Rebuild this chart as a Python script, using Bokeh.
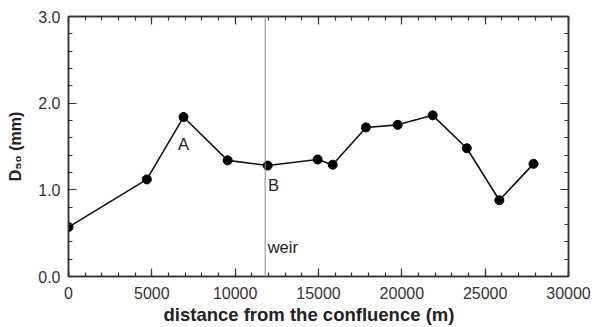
from bokeh.embed import file_html
from bokeh.models import (ColumnDataSource, CustomJSTickFormatter, Label, LinearAxis,
                          NumeralTickFormatter, Range1d, SingleIntervalTicker, Span, Title)
from bokeh.plotting import figure
from bokeh.resources import INLINE

# Median grain size along the river, measured from the confluence
distance_m = [0, 4700, 6900, 9550, 11950, 14950, 15850, 17850, 19750, 21850, 23900, 25850, 27900]
d50_mm = [0.57, 1.12, 1.84, 1.34, 1.28, 1.35, 1.29, 1.72, 1.75, 1.86, 1.48, 0.88, 1.30]
weir_m = 11800

x_ticks = [0, 5000, 10000, 15000, 20000, 25000, 30000]
y_ticks = [0.0, 1.0, 2.0, 3.0]

FONT = "Liberation Sans"
INK = "#222222"
AXIS = "#333333"

src = ColumnDataSource(dict(x=distance_m, y=d50_mm))

p = figure(width=592, height=327, output_backend="svg", toolbar_location=None,
           x_range=Range1d(x_ticks[0], x_ticks[-1]), y_range=Range1d(y_ticks[0], y_ticks[-1]),
           x_axis_location=None, y_axis_location=None,
           min_border_left=68, min_border_right=24, min_border_top=16, min_border_bottom=51)
p.grid.visible = False
p.outline_line_color = AXIS
p.outline_line_width = 1.5
p.background_fill_color = "white"
p.border_fill_color = "white"


def style_axis(ax, show_labels):
    ax.axis_line_color = AXIS
    ax.axis_line_width = 1.5
    ax.major_tick_line_color = AXIS
    ax.minor_tick_line_color = AXIS
    ax.major_tick_line_width = 1.2
    ax.minor_tick_line_width = 1.2
    ax.major_tick_in = 8
    ax.major_tick_out = 0
    ax.minor_tick_in = 4
    ax.minor_tick_out = 0
    ax.major_label_text_font = FONT
    ax.major_label_text_color = "#333333"
    ax.major_label_text_font_size = "16px"
    ax.major_label_standoff = 10 if show_labels else 0
    if not show_labels:
        # mirrored tick marks only, no numbers
        ax.formatter = CustomJSTickFormatter(code="return ''")


xt = SingleIntervalTicker(interval=5000, num_minor_ticks=5)
yt = SingleIntervalTicker(interval=1.0, num_minor_ticks=5)

bottom = LinearAxis(ticker=xt)
style_axis(bottom, True)
p.add_layout(bottom, "below")

# x-axis title, started a little right of the frame's left edge
p.add_layout(Title(text="distance from the confluence (m)", align="left", offset=95,
                   text_font=FONT, text_font_size="18.5px", text_font_style="bold",
                   text_color=INK, standoff=0), "below")

left = LinearAxis(ticker=yt, formatter=NumeralTickFormatter(format="0.0"),
                  axis_label="D\u2085\u2080 (mm)")
style_axis(left, True)
left.major_label_standoff = 8
left.axis_label_text_font = FONT
left.axis_label_text_font_size = "16px"
left.axis_label_text_font_style = "bold"
left.axis_label_text_color = INK
left.axis_label_standoff = 11
p.add_layout(left, "left")

top = LinearAxis(ticker=xt)
style_axis(top, False)
p.add_layout(top, "above")

right = LinearAxis(ticker=yt)
style_axis(right, False)
p.add_layout(right, "right")

# weir position
p.add_layout(Span(location=weir_m, dimension="height", line_color="#8a8a8a", line_width=1))

p.line("x", "y", source=src, line_color="#111111", line_width=1.6)
p.scatter("x", "y", source=src, size=9, fill_color="#000000", line_color="#000000")

# point annotations
for txt, xx, yy, align in [("A", 6900, 1.53, "center"), ("B", 12300, 1.06, "center"),
                           ("weir", 11950, 0.335, "left")]:
    p.add_layout(Label(x=xx, y=yy, text=txt, text_font=FONT, text_font_size="16.5px",
                       text_color=INK, text_align=align, text_baseline="middle"))

open("out.html", "w").write(file_html(p, INLINE))
